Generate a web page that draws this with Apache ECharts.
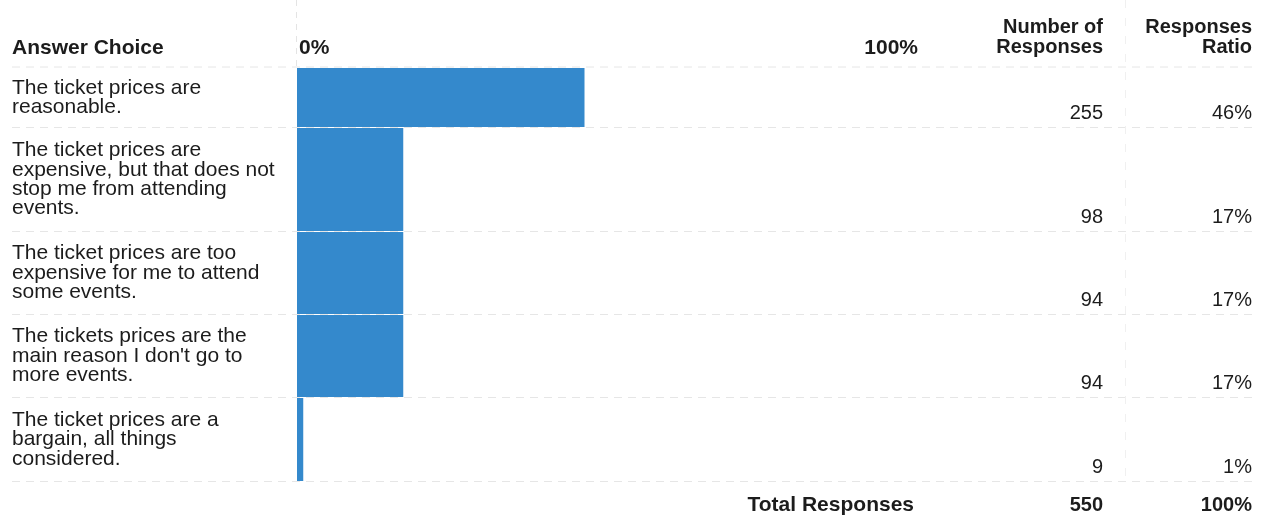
<!DOCTYPE html>
<html>
<head>
<meta charset="utf-8">
<style>
  html, body { margin: 0; padding: 0; background: #fff; }
  #chart { width: 1265px; height: 519px; }
</style>
<script src="https://cdn.jsdelivr.net/npm/echarts@6/dist/echarts.min.js"></script>
</head>
<body>
<div id="chart"></div>
<script>
// Survey answers, counts and response ratios
const categories = [
  'The ticket prices are\nreasonable.',
  'The ticket prices are\nexpensive, but that does not\nstop me from attending\nevents.',
  'The ticket prices are too\nexpensive for me to attend\nsome events.',
  'The tickets prices are the\nmain reason I don\'t go to\nmore events.',
  'The ticket prices are a\nbargain, all things\nconsidered.'
];
const responses = [255, 98, 94, 94, 9];
const ratios = [46, 17, 17, 17, 1];
const totalResponses = 550;
const totalRatio = 100;
const percentTicks = [0, 100];

// Table layout
const FONT = '"Liberation Sans", Arial, sans-serif';
const TEXT = '#1c1c1c';
const BAR = '#3489cc';
const rowTops = [68, 128, 232, 315, 398];
const rowBottoms = [127, 231, 314, 397, 481];
const barLeft = 297, barRight = 922;
const countRight = 1103, ratioRight = 1252;

const grids = [], xAxes = [], yAxes = [], series = [];
categories.forEach((cat, i) => {
  grids.push({
    left: barLeft, width: barRight - barLeft,
    top: rowTops[i], height: rowBottoms[i] - rowTops[i],
    containLabel: false
  });
  xAxes.push({
    gridIndex: i, type: 'value',
    min: percentTicks[0], max: percentTicks[percentTicks.length - 1],
    interval: percentTicks[1] - percentTicks[0],
    position: 'top',
    show: i === 0,
    axisLine: { show: false }, axisTick: { show: false }, splitLine: { show: false },
    axisLabel: {
      show: i === 0, margin: 9,
      formatter: '{value}%',
      padding: [0, 4, 0, 2],
      fontFamily: FONT, fontSize: 21, fontWeight: 'bold', color: TEXT,
      alignMinLabel: 'left', alignMaxLabel: 'right'
    }
  });
  yAxes.push({
    gridIndex: i, type: 'category', data: [cat],
    axisLine: { show: false }, axisTick: { show: false }, splitLine: { show: false },
    axisLabel: {
      align: 'left', margin: barLeft - 12,
      fontFamily: FONT, fontSize: 21, lineHeight: 19.4, color: TEXT
    }
  });
  series.push({
    type: 'bar', xAxisIndex: i, yAxisIndex: i,
    data: [ratios[i]],
    barWidth: '100%',
    itemStyle: { color: BAR },
    silent: true
  });
});

const graphics = [];
function txt(x, y, s, opts) {
  graphics.push({
    type: 'text', x, y, silent: true,
    style: Object.assign({
      text: s, font: '20px ' + FONT, fill: TEXT,
      textAlign: 'right', textVerticalAlign: 'middle', lineHeight: 20
    }, opts || {})
  });
}
// faint row separators
const sepYs = [67].concat(rowBottoms.map(b => b + 0.5));
sepYs.forEach(y => {
  graphics.push({
    type: 'line', silent: true, z: -1,
    shape: { x1: 12, y1: y, x2: 1255, y2: y },
    style: { stroke: '#e6e6e6', lineWidth: 1, lineDash: [8, 6] }
  });
});
graphics.push({
  type: 'line', silent: true, z: -1,
  shape: { x1: barLeft - 0.5, y1: 0, x2: barLeft - 0.5, y2: 68 },
  style: { stroke: '#e4e4e4', lineWidth: 1, lineDash: [6, 6] }
});
graphics.push({
  type: 'line', silent: true, z: -1,
  shape: { x1: 1125.5, y1: 0, x2: 1125.5, y2: 481 },
  style: { stroke: '#f0f0f0', lineWidth: 1, lineDash: [8, 10] }
});

// headers
txt(12, 48, 'Answer Choice', { textAlign: 'left', font: 'bold 21px ' + FONT });
txt(countRight, 37, 'Number of\nResponses', { font: 'bold 20px ' + FONT });
txt(ratioRight, 37, 'Responses\nRatio', { font: 'bold 20px ' + FONT });

// per-row counts and ratios, set at the foot of each row
responses.forEach((n, i) => {
  txt(countRight, rowBottoms[i] - 14, String(n));
  txt(ratioRight, rowBottoms[i] - 14, ratios[i] + '%');
});

// totals
txt(914, 505, 'Total Responses', { font: 'bold 21px ' + FONT });
txt(countRight, 505, String(totalResponses), { font: 'bold 20px ' + FONT });
txt(ratioRight, 505, totalRatio + '%', { font: 'bold 20px ' + FONT });

const chart = echarts.init(document.getElementById('chart'), null, { renderer: 'canvas' });
chart.setOption({
  animation: false,
  backgroundColor: '#ffffff',
  grid: grids,
  xAxis: xAxes,
  yAxis: yAxes,
  series: series,
  graphic: graphics
});
</script>
</body>
</html>
